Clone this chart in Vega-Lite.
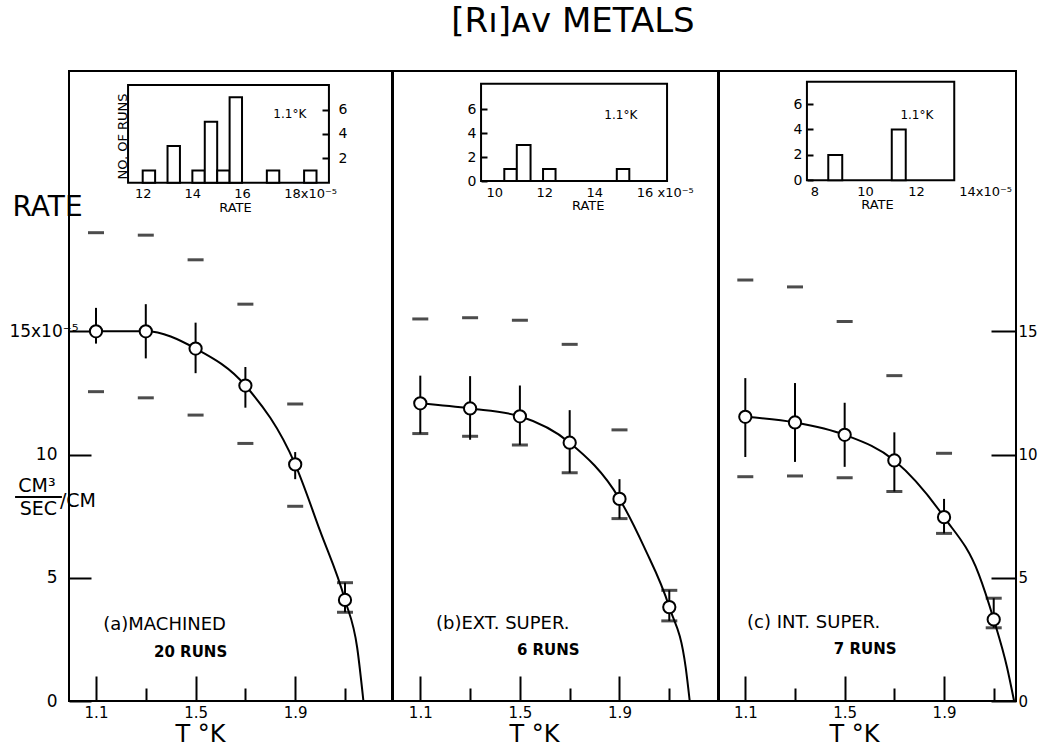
{
  "$schema": "https://vega.github.io/schema/vega-lite/v6.json",
  "background": "white",
  "padding": {"left": 7, "top": 5, "right": 0, "bottom": 0},
  "title": {"text": "[Rı]ᴀᴠ METALS", "fontSize": 34, "font": "DejaVu Sans", "fontWeight": "normal", "color": "black", "anchor": "middle", "dx": 50, "offset": 31},
  "spacing": -3,
  "datasets": {
    "pts": [
      {"panel": "a", "T": 1.1, "rate": 15.0, "hi": 15.95, "lo": 14.5},
      {"panel": "a", "T": 1.3, "rate": 15.0, "hi": 16.1, "lo": 13.9},
      {"panel": "a", "T": 1.5, "rate": 14.3, "hi": 15.35, "lo": 13.3},
      {"panel": "a", "T": 1.7, "rate": 12.8, "hi": 13.55, "lo": 11.9},
      {"panel": "a", "T": 1.9, "rate": 9.6, "hi": 10.1, "lo": 9.0},
      {"panel": "a", "T": 2.1, "rate": 4.1, "hi": 4.8, "lo": 3.6},
      {"panel": "b", "T": 1.1, "rate": 12.08, "hi": 13.2, "lo": 10.85},
      {"panel": "b", "T": 1.3, "rate": 11.87, "hi": 13.18, "lo": 10.6},
      {"panel": "b", "T": 1.5, "rate": 11.55, "hi": 12.8, "lo": 10.39},
      {"panel": "b", "T": 1.7, "rate": 10.48, "hi": 11.8, "lo": 9.26},
      {"panel": "b", "T": 1.9, "rate": 8.2, "hi": 9.0, "lo": 7.4},
      {"panel": "b", "T": 2.1, "rate": 3.81, "hi": 4.49, "lo": 3.25},
      {"panel": "c", "T": 1.1, "rate": 11.53, "hi": 13.1, "lo": 9.9},
      {"panel": "c", "T": 1.3, "rate": 11.3, "hi": 12.9, "lo": 9.7},
      {"panel": "c", "T": 1.5, "rate": 10.8, "hi": 12.1, "lo": 9.5},
      {"panel": "c", "T": 1.7, "rate": 9.76, "hi": 10.9, "lo": 8.5},
      {"panel": "c", "T": 1.9, "rate": 7.46, "hi": 8.2, "lo": 6.8},
      {"panel": "c", "T": 2.1, "rate": 3.31, "hi": 4.17, "lo": 2.97}
    ],
    "dashes": [
      {"panel": "a", "T": 1.1, "rate": 19.0}, {"panel": "a", "T": 1.1, "rate": 12.55},
      {"panel": "a", "T": 1.3, "rate": 18.9}, {"panel": "a", "T": 1.3, "rate": 12.3},
      {"panel": "a", "T": 1.5, "rate": 17.9}, {"panel": "a", "T": 1.5, "rate": 11.6},
      {"panel": "a", "T": 1.7, "rate": 16.1}, {"panel": "a", "T": 1.7, "rate": 10.45},
      {"panel": "a", "T": 1.9, "rate": 12.05}, {"panel": "a", "T": 1.9, "rate": 7.9},
      {"panel": "a", "T": 2.1, "rate": 4.8}, {"panel": "a", "T": 2.1, "rate": 3.6},
      {"panel": "b", "T": 1.1, "rate": 15.5}, {"panel": "b", "T": 1.1, "rate": 10.85},
      {"panel": "b", "T": 1.3, "rate": 15.55}, {"panel": "b", "T": 1.3, "rate": 10.74},
      {"panel": "b", "T": 1.5, "rate": 15.45}, {"panel": "b", "T": 1.5, "rate": 10.39},
      {"panel": "b", "T": 1.7, "rate": 14.47}, {"panel": "b", "T": 1.7, "rate": 9.26},
      {"panel": "b", "T": 1.9, "rate": 11.0}, {"panel": "b", "T": 1.9, "rate": 7.4},
      {"panel": "b", "T": 2.1, "rate": 4.49}, {"panel": "b", "T": 2.1, "rate": 3.25},
      {"panel": "c", "T": 1.1, "rate": 17.08}, {"panel": "c", "T": 1.1, "rate": 9.1},
      {"panel": "c", "T": 1.3, "rate": 16.8}, {"panel": "c", "T": 1.3, "rate": 9.13},
      {"panel": "c", "T": 1.5, "rate": 15.4}, {"panel": "c", "T": 1.5, "rate": 9.06},
      {"panel": "c", "T": 1.7, "rate": 13.2}, {"panel": "c", "T": 1.7, "rate": 8.5},
      {"panel": "c", "T": 1.9, "rate": 10.05}, {"panel": "c", "T": 1.9, "rate": 6.8},
      {"panel": "c", "T": 2.1, "rate": 4.17}, {"panel": "c", "T": 2.1, "rate": 2.97}
    ],
    "curve": [
      {"panel": "a", "T": 1.1, "rate": 15.0}, {"panel": "a", "T": 1.3, "rate": 15.0},
      {"panel": "a", "T": 1.5, "rate": 14.3}, {"panel": "a", "T": 1.7, "rate": 12.8},
      {"panel": "a", "T": 1.9, "rate": 9.6}, {"panel": "a", "T": 2.0, "rate": 6.9},
      {"panel": "a", "T": 2.1, "rate": 4.1}, {"panel": "a", "T": 2.149, "rate": 2.16},
      {"panel": "a", "T": 2.174, "rate": 0},
      {"panel": "b", "T": 1.1, "rate": 12.08}, {"panel": "b", "T": 1.3, "rate": 11.87},
      {"panel": "b", "T": 1.5, "rate": 11.55}, {"panel": "b", "T": 1.7, "rate": 10.48},
      {"panel": "b", "T": 1.9, "rate": 8.2}, {"panel": "b", "T": 2.0, "rate": 6.22},
      {"panel": "b", "T": 2.1, "rate": 3.81}, {"panel": "b", "T": 2.166, "rate": 1.35},
      {"panel": "b", "T": 2.182, "rate": 0},
      {"panel": "c", "T": 1.1, "rate": 11.53}, {"panel": "c", "T": 1.3, "rate": 11.3},
      {"panel": "c", "T": 1.5, "rate": 10.8}, {"panel": "c", "T": 1.7, "rate": 9.76},
      {"panel": "c", "T": 1.9, "rate": 7.46}, {"panel": "c", "T": 2.04, "rate": 5.14},
      {"panel": "c", "T": 2.1, "rate": 3.31}, {"panel": "c", "T": 2.154, "rate": 1.35},
      {"panel": "c", "T": 2.182, "rate": 0}
    ],
    "hist": [
      {"panel": "a", "x0": 12.0, "x1": 12.5, "n0": 0, "n1": 1},
      {"panel": "a", "x0": 13.0, "x1": 13.5, "n0": 0, "n1": 3},
      {"panel": "a", "x0": 14.0, "x1": 14.5, "n0": 0, "n1": 1},
      {"panel": "a", "x0": 14.5, "x1": 15.0, "n0": 0, "n1": 5},
      {"panel": "a", "x0": 15.0, "x1": 15.5, "n0": 0, "n1": 1},
      {"panel": "a", "x0": 15.5, "x1": 16.0, "n0": 0, "n1": 7},
      {"panel": "a", "x0": 17.0, "x1": 17.5, "n0": 0, "n1": 1},
      {"panel": "a", "x0": 18.5, "x1": 19.0, "n0": 0, "n1": 1},
      {"panel": "b", "x0": 10.4, "x1": 10.9, "n0": 0, "n1": 1},
      {"panel": "b", "x0": 10.9, "x1": 11.45, "n0": 0, "n1": 3},
      {"panel": "b", "x0": 11.95, "x1": 12.45, "n0": 0, "n1": 1},
      {"panel": "b", "x0": 14.9, "x1": 15.4, "n0": 0, "n1": 1},
      {"panel": "c", "x0": 8.55, "x1": 9.1, "n0": 0, "n1": 2},
      {"panel": "c", "x0": 11.05, "x1": 11.6, "n0": 0, "n1": 4}
    ],
    "frames": [
      {"panel": "a", "x0": 11.41, "x1": 19.5, "n0": 0, "n1": 8.0},
      {"panel": "b", "x0": 9.47, "x1": 16.91, "n0": 0, "n1": 8.1},
      {"panel": "c", "x0": 7.71, "x1": 13.51, "n0": 0, "n1": 7.76}
    ],
    "histnotes": [
      {"panel": "a", "x0": 17.26, "n0": 5.6, "label": "1.1°K"},
      {"panel": "b", "x0": 14.4, "n0": 5.48, "label": "1.1°K"},
      {"panel": "c", "x0": 11.39, "n0": 5.13, "label": "1.1°K"}
    ],
    "notes": [
      {"panel": "a", "kind": "name", "T": 1.129, "rate": 3.08, "label": "(a)MACHINED"},
      {"panel": "a", "kind": "runs", "T": 1.333, "rate": 1.99, "label": "20 RUNS"},
      {"panel": "b", "kind": "name", "T": 1.163, "rate": 3.14, "label": "(b)EXT. SUPER."},
      {"panel": "b", "kind": "runs", "T": 1.488, "rate": 2.06, "label": "6 RUNS"},
      {"panel": "c", "kind": "name", "T": 1.107, "rate": 3.18, "label": "(c) INT. SUPER."},
      {"panel": "c", "kind": "runs", "T": 1.456, "rate": 2.11, "label": "7 RUNS"},
      {"panel": "a", "kind": "frac", "T": 0.863, "rate": 8.72, "label": "CM³"},
      {"panel": "a", "kind": "frac", "T": 0.869, "rate": 7.79, "label": "SEC"},
      {"panel": "a", "kind": "fracr", "T": 0.955, "rate": 8.11, "label": "/CM"}
    ],
    "fracbar": [
      {"panel": "a", "T": 0.775, "T2": 0.963, "rate": 8.28}
    ]
  },
  "hconcat": [
    {
      "width": 323, "height": 630,
      "layer": [
        {
          "encoding": {
            "x": {"field": "T", "type": "quantitative", "scale": {"domain": [0.9916, 2.2888], "nice": false, "zero": false},
              "axis": {"orient": "bottom", "values": [1.1, 1.3, 1.5, 1.7, 1.9, 2.1], "format": ".1f",
                "labelExpr": "datum.value == 1.1 || datum.value == 1.5 || datum.value == 1.9 ? datum.label : ''",
                "tickSize": {"condition": {"test": "datum.value == 1.1 || datum.value == 1.5 || datum.value == 1.9", "value": -25}, "value": -13},
                "tickWidth": 2, "labelPadding": 29, "labelFontSize": 15,
                "title": "T °K", "titleFontSize": 24, "titleX": 131, "titleY": 33, "titleAlign": "center", "titleBaseline": "middle"}},
            "y": {"field": "rate", "type": "quantitative", "scale": {"domain": [0, 25.56], "nice": false, "zero": false},
              "axis": {"orient": "left", "values": [0, 5, 10, 15],
                "labelExpr": "datum.value == 15 ? '15x10⁻⁵' : datum.label",
                "tickSize": -22, "tickWidth": 2,
                "labelPadding": {"condition": {"test": "datum.value == 15", "value": 13}, "value": 34},
                "labelFontSize": 17,
                "title": "RATE", "titleFontSize": 28, "titleAngle": 0, "titleX": -57, "titleY": 136, "titleAlign": "left", "titleBaseline": "middle"}}
          },
          "layer": [
            {"data": {"name": "curve"}, "transform": [{"filter": "datum.panel == 'a'"}],
              "mark": {"type": "line", "interpolate": "monotone", "color": "black", "strokeWidth": 2}},
            {"data": {"name": "pts"}, "transform": [{"filter": "datum.panel == 'a'"}],
              "mark": {"type": "rule", "color": "black", "strokeWidth": 2},
              "encoding": {
                "y": {"field": "hi", "type": "quantitative", "scale": {"domain": [0, 25.56], "nice": false, "zero": false},
                  "axis": {"orient": "left", "values": [0, 5, 10, 15],
                    "labelExpr": "datum.value == 15 ? '15x10⁻⁵' : datum.label",
                    "tickSize": -22, "tickWidth": 2,
                    "labelPadding": {"condition": {"test": "datum.value == 15", "value": 13}, "value": 34},
                    "labelFontSize": 17,
                    "title": "RATE", "titleFontSize": 28, "titleAngle": 0, "titleX": -57, "titleY": 136, "titleAlign": "left", "titleBaseline": "middle"}},
                "y2": {"field": "lo"}}},
            {"data": {"name": "dashes"}, "transform": [{"filter": "datum.panel == 'a'"}],
              "mark": {"type": "tick", "orient": "horizontal", "color": "black", "thickness": 3, "size": 16}},
            {"data": {"name": "pts"}, "transform": [{"filter": "datum.panel == 'a'"}],
              "mark": {"type": "point", "shape": "circle", "size": 150, "filled": true, "fill": "white", "stroke": "black", "strokeWidth": 2, "opacity": 1}},
            {"data": {"name": "notes"}, "transform": [{"filter": "datum.panel == 'a' && datum.kind == 'name'"}],
              "mark": {"type": "text", "align": "left", "baseline": "middle", "fontSize": 18, "color": "black"},
              "encoding": {"text": {"field": "label"}}},
            {"data": {"name": "notes"}, "transform": [{"filter": "datum.panel == 'a' && datum.kind == 'runs'"}],
              "mark": {"type": "text", "align": "left", "baseline": "middle", "fontSize": 15, "fontWeight": "bold", "color": "black"},
              "encoding": {"text": {"field": "label"}}},
            {"data": {"name": "notes"}, "transform": [{"filter": "datum.panel == 'a' && datum.kind == 'frac'"}],
              "mark": {"type": "text", "align": "center", "baseline": "middle", "fontSize": 19, "color": "black"},
              "encoding": {"text": {"field": "label"}}},
            {"data": {"name": "notes"}, "transform": [{"filter": "datum.panel == 'a' && datum.kind == 'fracr'"}],
              "mark": {"type": "text", "align": "left", "baseline": "middle", "fontSize": 19, "color": "black"},
              "encoding": {"text": {"field": "label"}}},
            {"data": {"name": "fracbar"}, "transform": [{"filter": "datum.panel == 'a'"}],
              "mark": {"type": "rule", "color": "black", "strokeWidth": 2},
              "encoding": {"x2": {"field": "T2"}}}
          ]
        },
        {
          "encoding": {
            "x": {"field": "x0", "type": "quantitative", "scale": {"domain": [9.032, 22.04], "nice": false, "zero": false},
              "axis": {"orient": "bottom", "offset": -518.3, "values": [12, 14, 16, 18], "ticks": false, "labelPadding": 5, "labelFontSize": 13,
                "labelExpr": "datum.value == 18 ? '18x10⁻⁵' : datum.label",
                "labelAlign": {"condition": {"test": "datum.value == 18", "value": "left"}, "value": "center"},
                "labelOffset": {"condition": {"test": "datum.value == 18", "value": -8}, "value": 0},
                "title": "RATE", "titleFontSize": 13, "titleX": 166, "titleY": 25, "titleAlign": "center", "titleBaseline": "middle"}},
            "y": {"field": "n0", "type": "quantitative", "scale": {"domain": [-42.48, 9.156], "nice": false, "zero": false},
              "axis": {"orient": "right", "offset": -63, "values": [2, 4, 6], "tickSize": -7, "tickWidth": 2, "labelPadding": 16, "labelFontSize": 14,
                "title": "NO. OF RUNS", "titleFontSize": 13, "titleAngle": 270, "titleX": -207, "titleY": 65, "titleAlign": "center", "titleBaseline": "middle"}}
          },
          "layer": [
            {"data": {"name": "frames"}, "transform": [{"filter": "datum.panel == 'a'"}],
              "mark": {"type": "rect", "filled": false, "stroke": "black", "strokeWidth": 2},
              "encoding": {"x2": {"field": "x1"}, "y2": {"field": "n1"}}},
            {"data": {"name": "hist"}, "transform": [{"filter": "datum.panel == 'a'"}],
              "mark": {"type": "rect", "fill": "white", "stroke": "black", "strokeWidth": 2},
              "encoding": {"x2": {"field": "x1"}, "y2": {"field": "n1"}}},
            {"data": {"name": "histnotes"}, "transform": [{"filter": "datum.panel == 'a'"}],
              "mark": {"type": "text", "align": "left", "baseline": "middle", "fontSize": 12, "color": "black"},
              "encoding": {"text": {"field": "label"}}}
          ]
        }
      ],
      "resolve": {"scale": {"x": "independent", "y": "independent"}, "axis": {"x": "independent", "y": "independent"}}
    },
    {
      "width": 325, "height": 630,
      "layer": [
        {
          "encoding": {
            "x": {"field": "T", "type": "quantitative", "scale": {"domain": [0.9904, 2.2956], "nice": false, "zero": false},
              "axis": {"orient": "bottom", "values": [1.1, 1.3, 1.5, 1.7, 1.9, 2.1], "format": ".1f",
                "labelExpr": "datum.value == 1.1 || datum.value == 1.5 || datum.value == 1.9 ? datum.label : ''",
                "tickSize": {"condition": {"test": "datum.value == 1.1 || datum.value == 1.5 || datum.value == 1.9", "value": -25}, "value": -13},
                "tickWidth": 2, "labelPadding": 29, "labelFontSize": 15,
                "title": "T °K", "titleFontSize": 24, "titleX": 141, "titleY": 33, "titleAlign": "center", "titleBaseline": "middle"}},
            "y": {"field": "rate", "type": "quantitative", "scale": {"domain": [0, 25.56], "nice": false, "zero": false}, "axis": null}
          },
          "layer": [
            {"data": {"name": "curve"}, "transform": [{"filter": "datum.panel == 'b'"}],
              "mark": {"type": "line", "interpolate": "monotone", "color": "black", "strokeWidth": 2}},
            {"data": {"name": "pts"}, "transform": [{"filter": "datum.panel == 'b'"}],
              "mark": {"type": "rule", "color": "black", "strokeWidth": 2},
              "encoding": {"y": {"field": "hi", "type": "quantitative", "scale": {"domain": [0, 25.56], "nice": false, "zero": false}, "axis": null}, "y2": {"field": "lo"}}},
            {"data": {"name": "dashes"}, "transform": [{"filter": "datum.panel == 'b'"}],
              "mark": {"type": "tick", "orient": "horizontal", "color": "black", "thickness": 3, "size": 16}},
            {"data": {"name": "pts"}, "transform": [{"filter": "datum.panel == 'b'"}],
              "mark": {"type": "point", "shape": "circle", "size": 150, "filled": true, "fill": "white", "stroke": "black", "strokeWidth": 2, "opacity": 1}},
            {"data": {"name": "notes"}, "transform": [{"filter": "datum.panel == 'b' && datum.kind == 'name'"}],
              "mark": {"type": "text", "align": "left", "baseline": "middle", "fontSize": 18, "color": "black"},
              "encoding": {"text": {"field": "label"}}},
            {"data": {"name": "notes"}, "transform": [{"filter": "datum.panel == 'b' && datum.kind == 'runs'"}],
              "mark": {"type": "text", "align": "left", "baseline": "middle", "fontSize": 15, "fontWeight": "bold", "color": "black"},
              "encoding": {"text": {"field": "label"}}}
          ]
        },
        {
          "encoding": {
            "x": {"field": "x0", "type": "quantitative", "scale": {"domain": [5.948, 18.948], "nice": false, "zero": false},
              "axis": {"orient": "bottom", "offset": -520, "values": [10, 12, 14, 16], "ticks": false, "labelPadding": 5, "labelFontSize": 13,
                "labelExpr": "datum.value == 16 ? '16 x10⁻⁵' : datum.label",
                "labelAlign": {"condition": {"test": "datum.value == 16", "value": "left"}, "value": "center"},
                "labelOffset": {"condition": {"test": "datum.value == 16", "value": -8}, "value": 0},
                "title": "RATE", "titleFontSize": 13, "titleX": 194.7, "titleY": 24, "titleAlign": "center", "titleBaseline": "middle"}},
            "y": {"field": "n0", "type": "quantitative", "scale": {"domain": [-43.33, 9.167], "nice": false, "zero": false},
              "axis": {"orient": "left", "offset": -88, "values": [0, 2, 4, 6], "tickSize": -6, "tickWidth": 2, "labelPadding": 11, "labelFontSize": 14, "title": null}}
          },
          "layer": [
            {"data": {"name": "frames"}, "transform": [{"filter": "datum.panel == 'b'"}],
              "mark": {"type": "rect", "filled": false, "stroke": "black", "strokeWidth": 2},
              "encoding": {"x2": {"field": "x1"}, "y2": {"field": "n1"}}},
            {"data": {"name": "hist"}, "transform": [{"filter": "datum.panel == 'b'"}],
              "mark": {"type": "rect", "fill": "white", "stroke": "black", "strokeWidth": 2},
              "encoding": {"x2": {"field": "x1"}, "y2": {"field": "n1"}}},
            {"data": {"name": "histnotes"}, "transform": [{"filter": "datum.panel == 'b'"}],
              "mark": {"type": "text", "align": "left", "baseline": "middle", "fontSize": 12, "color": "black"},
              "encoding": {"text": {"field": "label"}}}
          ]
        }
      ],
      "resolve": {"scale": {"x": "independent", "y": "independent"}, "axis": {"x": "independent", "y": "independent"}}
    },
    {
      "width": 297, "height": 630,
      "layer": [
        {
          "encoding": {
            "x": {"field": "T", "type": "quantitative", "scale": {"domain": [0.9941, 2.1897], "nice": false, "zero": false},
              "axis": {"orient": "bottom", "values": [1.1, 1.3, 1.5, 1.7, 1.9, 2.1], "format": ".1f",
                "labelExpr": "datum.value == 1.1 || datum.value == 1.5 || datum.value == 1.9 ? datum.label : ''",
                "tickSize": {"condition": {"test": "datum.value == 1.1 || datum.value == 1.5 || datum.value == 1.9", "value": -25}, "value": -13},
                "tickWidth": 2, "labelPadding": 29, "labelFontSize": 15,
                "title": "T °K", "titleFontSize": 24, "titleX": 135, "titleY": 33, "titleAlign": "center", "titleBaseline": "middle"}},
            "y": {"field": "rate", "type": "quantitative", "scale": {"domain": [0, 25.56], "nice": false, "zero": false},
              "axis": {"orient": "right", "values": [0, 5, 10, 15], "tickSize": -25, "tickWidth": 2, "labelPadding": 27, "labelFontSize": 15, "title": null}}
          },
          "layer": [
            {"data": {"name": "curve"}, "transform": [{"filter": "datum.panel == 'c'"}],
              "mark": {"type": "line", "interpolate": "monotone", "color": "black", "strokeWidth": 2}},
            {"data": {"name": "pts"}, "transform": [{"filter": "datum.panel == 'c'"}],
              "mark": {"type": "rule", "color": "black", "strokeWidth": 2},
              "encoding": {
                "y": {"field": "hi", "type": "quantitative", "scale": {"domain": [0, 25.56], "nice": false, "zero": false},
                  "axis": {"orient": "right", "values": [0, 5, 10, 15], "tickSize": -25, "tickWidth": 2, "labelPadding": 27, "labelFontSize": 15, "title": null}},
                "y2": {"field": "lo"}}},
            {"data": {"name": "dashes"}, "transform": [{"filter": "datum.panel == 'c'"}],
              "mark": {"type": "tick", "orient": "horizontal", "color": "black", "thickness": 3, "size": 16}},
            {"data": {"name": "pts"}, "transform": [{"filter": "datum.panel == 'c'"}],
              "mark": {"type": "point", "shape": "circle", "size": 150, "filled": true, "fill": "white", "stroke": "black", "strokeWidth": 2, "opacity": 1}},
            {"data": {"name": "notes"}, "transform": [{"filter": "datum.panel == 'c' && datum.kind == 'name'"}],
              "mark": {"type": "text", "align": "left", "baseline": "middle", "fontSize": 18, "color": "black"},
              "encoding": {"text": {"field": "label"}}},
            {"data": {"name": "notes"}, "transform": [{"filter": "datum.panel == 'c' && datum.kind == 'runs'"}],
              "mark": {"type": "text", "align": "left", "baseline": "middle", "fontSize": 15, "fontWeight": "bold", "color": "black"},
              "encoding": {"text": {"field": "label"}}}
          ]
        },
        {
          "encoding": {
            "x": {"field": "x0", "type": "quantitative", "scale": {"domain": [4.248, 15.941], "nice": false, "zero": false},
              "axis": {"orient": "bottom", "offset": -520.7, "values": [8, 10, 12, 14], "ticks": false, "labelPadding": 5, "labelFontSize": 13,
                "labelExpr": "datum.value == 14 ? '14x10⁻⁵' : datum.label",
                "labelAlign": {"condition": {"test": "datum.value == 14", "value": "left"}, "value": "center"},
                "labelOffset": {"condition": {"test": "datum.value == 14", "value": -8}, "value": 0},
                "title": "RATE", "titleFontSize": 13, "titleX": 158, "titleY": 24, "titleAlign": "center", "titleBaseline": "middle"}},
            "y": {"field": "n0", "type": "quantitative", "scale": {"domain": [-41.0, 8.606], "nice": false, "zero": false},
              "axis": {"orient": "left", "offset": -88, "values": [0, 2, 4, 6], "tickSize": -6, "tickWidth": 2, "labelPadding": 11, "labelFontSize": 14, "title": null}}
          },
          "layer": [
            {"data": {"name": "frames"}, "transform": [{"filter": "datum.panel == 'c'"}],
              "mark": {"type": "rect", "filled": false, "stroke": "black", "strokeWidth": 2},
              "encoding": {"x2": {"field": "x1"}, "y2": {"field": "n1"}}},
            {"data": {"name": "hist"}, "transform": [{"filter": "datum.panel == 'c'"}],
              "mark": {"type": "rect", "fill": "white", "stroke": "black", "strokeWidth": 2},
              "encoding": {"x2": {"field": "x1"}, "y2": {"field": "n1"}}},
            {"data": {"name": "histnotes"}, "transform": [{"filter": "datum.panel == 'c'"}],
              "mark": {"type": "text", "align": "left", "baseline": "middle", "fontSize": 12, "color": "black"},
              "encoding": {"text": {"field": "label"}}}
          ]
        }
      ],
      "resolve": {"scale": {"x": "independent", "y": "independent"}, "axis": {"x": "independent", "y": "independent"}}
    }
  ],
  "config": {
    "font": "DejaVu Sans",
    "view": {"stroke": "black", "strokeWidth": 2},
    "axis": {"grid": false, "domain": false, "labelFlush": false, "labelOverlap": false, "labelBound": false,
      "labelColor": "black", "titleColor": "black", "tickColor": "black", "titleFontWeight": "normal",
      "labelFont": "DejaVu Sans", "titleFont": "DejaVu Sans"}
  }
}
